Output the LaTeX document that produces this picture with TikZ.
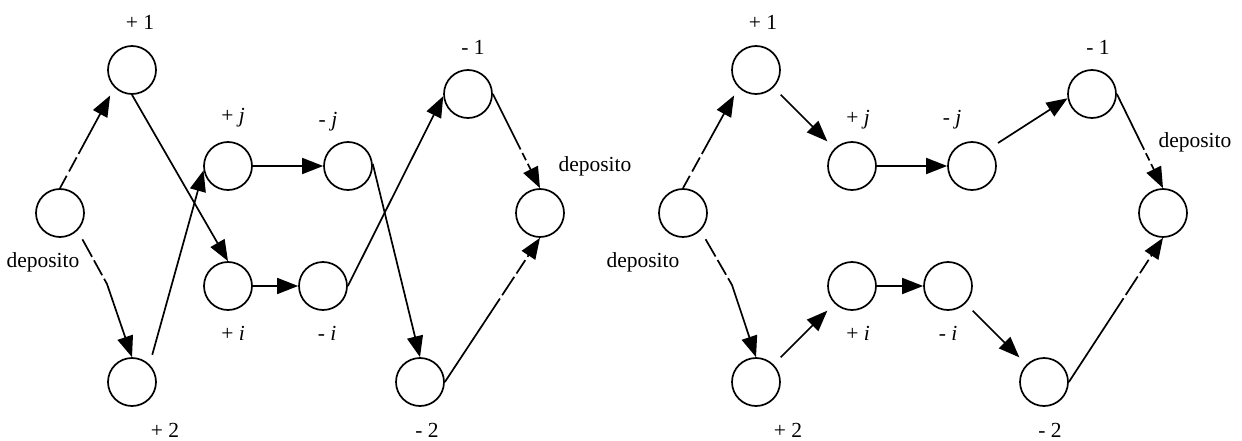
\documentclass[tikz,border=0pt]{standalone}
\usepackage{fontspec}
\setmainfont{Liberation Serif}
\usetikzlibrary{arrows.meta}
\begin{document}
\begin{tikzpicture}[x=1pt,y=-1pt,
  st/.style={circle,draw,line width=1.7pt,minimum size=48pt,inner sep=0pt},
  lab/.style={font=\fontsize{21.5}{24}\selectfont,inner sep=0pt},
  con/.style={line width=1.7pt,-{Triangle[length=21pt,width=16pt]}},
  dfirstA/.style={con,dash pattern=on 14pt off 5pt on 16pt off 4pt on 400pt},
  dfirstB/.style={con,dash pattern=on 20pt off 4pt on 17pt off 4pt on 400pt},
  dlastA/.style={con,dash pattern=on 62pt off 4pt on 8pt off 4pt on 400pt},
  dlastB/.style={con,dash pattern=on 100pt off 4pt on 22pt off 4pt on 16pt off 4pt on 400pt}
]
\useasboundingbox (0,0) rectangle (1242,441);
% left diagram
\node[st] (dA) at (60,213) {};
\node[st] (pA1) at (132,70) {};
\node[st] (pA2) at (132,382) {};
\node[st] (pAj) at (228,166) {};
\node[st] (pAi) at (228,286) {};
\node[st] (mAj) at (348,166) {};
\node[st] (mAi) at (323,286) {};
\node[st] (mA1) at (468,94) {};
\node[st] (mA2) at (420,382) {};
\node[st] (eA) at (540,213) {};
\coordinate (bA) at (107,284);
\node[lab] (tA1) at (140,22) {+ 1};
\node[lab] (tA2) at (165,430) {+ 2};
\node[lab] (tAj) at (233,118) {+ \textit{j}};
\node[lab] (tAi) at (233,333) {+ \textit{i}};
\node[lab] (uAj) at (328,122) {- \textit{j}};
\node[lab] (uAi) at (327,333) {- \textit{i}};
\node[lab] (uA1) at (473,47) {- 1};
\node[lab] (uA2) at (427,430) {- 2};
\node[lab] (lA) at (43,262) {deposito};
\node[lab] (rA) at (595,166) {deposito};
\draw[dfirstA,shorten >=9pt] (dA.north) -- (pA1.225);
\draw[dfirstB,shorten <=10pt] (dA.-45) -- (bA) -- (pA2.north);
\draw[con] (pA1.south) -- (pAi.north);
\draw[con,shorten <=10pt] (pA2.45) -- (pAj.190);
\draw[con] (pAj) -- (mAj);
\draw[con] (pAi) -- (mAi);
\draw[con] (mAj.5) -- (mA2.north);
\draw[con] (mAi.east) -- (mA1.185);
\draw[dlastA] (mA1.east) -- (eA.north);
\draw[dlastB] (mA2.east) -- (eA.south);
% right diagram
\node[st] (dB) at (683,213) {};
\node[st] (pB1) at (756,70) {};
\node[st] (pB2) at (756,382) {};
\node[st] (pBj) at (852,166) {};
\node[st] (pBi) at (852,286) {};
\node[st] (mBj) at (972,166) {};
\node[st] (mBi) at (948,286) {};
\node[st] (mB1) at (1092,94) {};
\node[st] (mB2) at (1044,382) {};
\node[st] (eB) at (1163,213) {};
\coordinate (bB) at (732,285);
\node[lab] (tB1) at (763,22) {+ 1};
\node[lab] (tB2) at (788,430) {+ 2};
\node[lab] (tBj) at (858,120) {+ \textit{j}};
\node[lab] (tBi) at (858,333) {+ \textit{i}};
\node[lab] (uBj) at (952,120) {- \textit{j}};
\node[lab] (uBi) at (948,333) {- \textit{i}};
\node[lab] (uB1) at (1098,47) {- 1};
\node[lab] (uB2) at (1050,430) {- 2};
\node[lab] (lB) at (643,262) {deposito};
\node[lab] (rB) at (1195,142) {deposito};
\draw[dfirstA,shorten >=9pt] (dB.north) -- (pB1.225);
\draw[dfirstB,shorten <=10pt] (dB.-45) -- (bB) -- (pB2.north);
\draw[con,shorten <=10pt,shorten >=10pt] (pB1.-45) -- (pBj.135);
\draw[con,shorten <=10pt,shorten >=10pt] (pB2.45) -- (pBi.-135);
\draw[con] (pBj) -- (mBj);
\draw[con] (pBi) -- (mBi);
\draw[con,shorten <=10pt] (mBj.45) -- (mB1.190);
\draw[con,shorten <=10pt,shorten >=10pt] (mBi.-45) -- (mB2.135);
\draw[dlastA] (mB1.east) -- (eB.north);
\draw[dlastB] (mB2.east) -- (eB.south);
\end{tikzpicture}
\end{document}
